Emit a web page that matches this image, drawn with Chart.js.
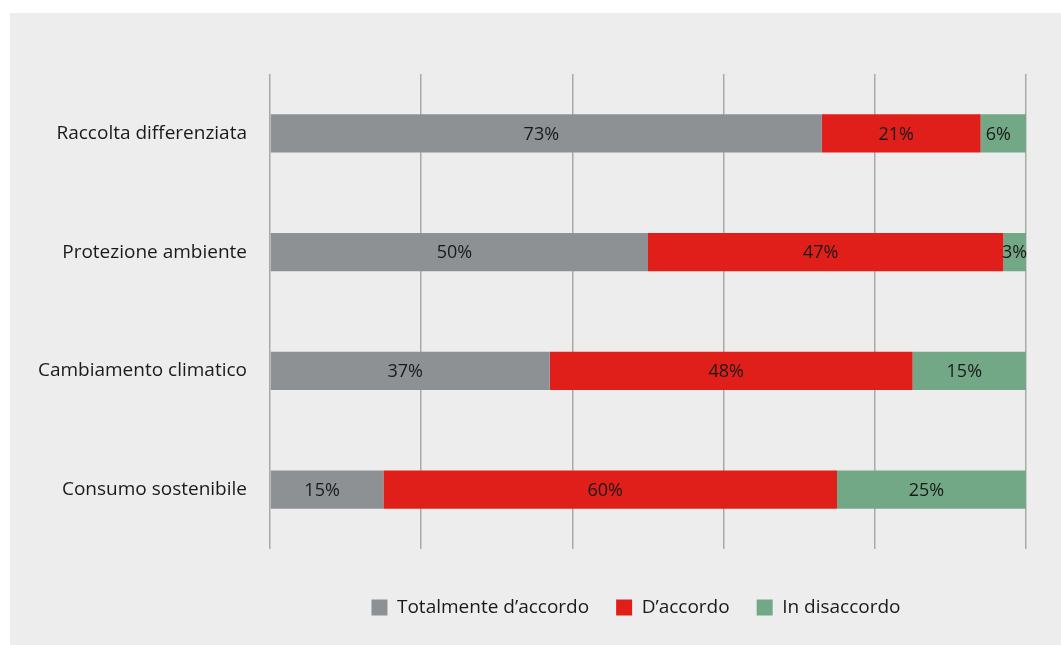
<!DOCTYPE html>
<html>
<head>
<meta charset="utf-8">
<script src="https://cdn.jsdelivr.net/npm/chart.js@4.4.1/dist/chart.umd.min.js"></script>
<style>
  html, body { margin: 0; padding: 0; background: #ffffff; }
  #panel { position: absolute; left: 10px; top: 13px; width: 1051px; height: 632px; background: #ededed; }
  canvas { display: block; }
</style>
</head>
<body>
<div id="panel"><canvas id="c" width="1051" height="632"></canvas></div>
<script>
const categories = ["Raccolta differenziata", "Protezione ambiente", "Cambiamento climatico", "Consumo sostenibile"];
const seriesNames = ["Totalmente d\u2019accordo", "D\u2019accordo", "In disaccordo"];
const totalmente = [73, 50, 37, 15];
const daccordo = [21, 47, 48, 60];
const disaccordo = [6, 3, 15, 25];
const colors = ["#8e9194", "#e01f1a", "#72a885"];

const FONT = "'Open Sans', 'Noto Sans', sans-serif";

// Writes each segment's percentage inside its bar piece, nudged slightly left when there is room
const segmentLabels = {
  id: "segmentLabels",
  afterDatasetsDraw(chart) {
    const ctx = chart.ctx;
    ctx.save();
    ctx.font = "18px " + FONT;
    ctx.fillStyle = "#1a1a1a";
    ctx.textAlign = "center";
    ctx.textBaseline = "middle";
    chart.data.datasets.forEach((ds, i) => {
      chart.getDatasetMeta(i).data.forEach((bar, j) => {
        const p = bar.getProps(["x", "y", "base"], true);
        const text = ds.data[j] + "%";
        const w = Math.abs(p.x - p.base);
        const slack = (w - ctx.measureText(text).width) / 2 - 2;
        const nudge = Math.min(5, Math.max(0, slack));
        ctx.fillText(text, (p.x + p.base) / 2 - nudge, p.y + 1);
      });
    });
    ctx.restore();
  }
};

// Moves the legend row to the right so it sits under the bars
const legendShift = {
  id: "legendShift",
  afterLayout(chart) {
    const lg = chart.legend;
    if (!lg) return;
    lg.left += 118;
    lg.right += 118;
  }
};

new Chart(document.getElementById("c"), {
  type: "bar",
  data: {
    labels: categories,
    datasets: [
      { label: seriesNames[0], data: totalmente, backgroundColor: colors[0] },
      { label: seriesNames[1], data: daccordo, backgroundColor: colors[1] },
      { label: seriesNames[2], data: disaccordo, backgroundColor: colors[2] }
    ]
  },
  options: {
    indexAxis: "y",
    responsive: false,
    animation: false,
    devicePixelRatio: 1,
    layout: { padding: { top: 61, right: 35, bottom: 18, left: 0 } },
    datasets: { bar: { barPercentage: 0.322, categoryPercentage: 1.0, borderWidth: 0 } },
    scales: {
      x: {
        stacked: true,
        min: 0, max: 100,
        ticks: { display: false, stepSize: 20 },
        grid: { color: "#a9a9a9", lineWidth: 1.5, drawTicks: false },
        border: { display: false },
        afterFit(s) { s.height = 22; }
      },
      y: {
        stacked: true,
        ticks: { color: "#1a1a1a", font: { size: 19, family: FONT }, padding: 23 },
        grid: { display: false, drawTicks: false },
        border: { display: false },
        afterFit(s) { s.width = 260; }
      }
    },
    plugins: {
      tooltip: { enabled: false },
      legend: {
        position: "bottom",
        labels: {
          color: "#1a1a1a",
          font: { size: 19, family: FONT },
          boxWidth: 16,
          boxHeight: 16,
          padding: 27
        }
      }
    }
  },
  plugins: [segmentLabels, legendShift]
});
</script>
</body>
</html>
